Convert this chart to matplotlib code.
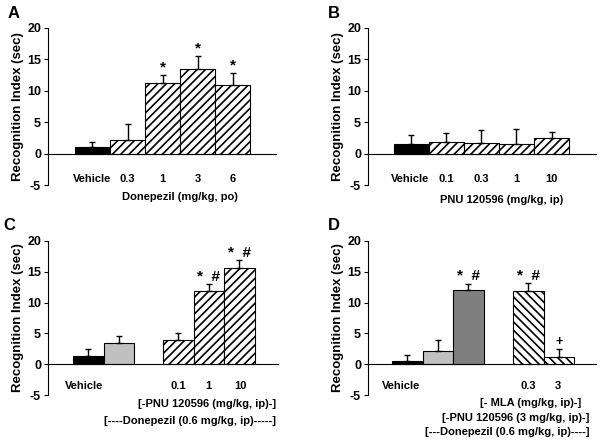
import matplotlib
matplotlib.use("Agg")
import matplotlib.pyplot as plt

plt.rcParams['font.family'] = ['Liberation Sans', 'DejaVu Sans']
plt.rcParams['font.weight'] = 'bold'
plt.rcParams['hatch.linewidth'] = 1.2

# ---- data ----
A_labels = ['Vehicle', '0.3', '1', '3', '6']
A_mean = [1.0, 2.1, 11.3, 13.4, 10.9]
A_err = [0.8, 2.6, 1.2, 2.1, 2.0]
A_marks = ['', '', '*', '*', '*']

B_labels = ['Vehicle', '0.1', '0.3', '1', '10']
B_mean = [1.45, 1.85, 1.7, 1.6, 2.5]
B_err = [1.45, 1.5, 2.05, 2.25, 1.0]
B_marks = ['', '', '', '', '']

C_labels = ['Vehicle', '', '0.1', '1', '10']
C_mean = [1.4, 3.5, 3.95, 11.9, 15.6]
C_err = [1.0, 1.15, 1.1, 1.1, 1.25]
C_marks = ['', '', '', '*  #', '*  #']

D_labels = ['Vehicle', '', '', '0.3', '3']
D_mean = [0.5, 2.2, 12.05, 11.9, 1.2]
D_err = [0.95, 1.7, 1.05, 1.3, 1.3]
D_marks = ['', '', '*  #', '*  #', '+']

A_xlabel = ['Donepezil (mg/kg, po)']
B_xlabel = ['PNU 120596 (mg/kg, ip)']
C_xlabel = ['[-PNU 120596 (mg/kg, ip)-]', '[----Donepezil (0.6 mg/kg, ip)-----]']
D_xlabel = ['[- MLA (mg/kg, ip)-]', '[-PNU 120596 (3 mg/kg, ip)-]',
            '[---Donepezil (0.6 mg/kg, ip)----]']

yticks = [-5, 0, 5, 10, 15, 20]

# ---- layout / style ----
W, H = 602, 443
fig = plt.figure(figsize=(W / 100, H / 100), dpi=100)


def axes_px(left, right, top, bottom):
    return fig.add_axes([left / W, 1 - bottom / H, (right - left) / W, (bottom - top) / H])


panels = [
    dict(ax=axes_px(48, 276, 28, 185), letter='A', labels=A_labels, mean=A_mean, err=A_err,
         marks=A_marks, pos=[0, 1, 2, 3, 4], xlim=(-1.27, 5.24),
         colors=['black', 'white', 'white', 'white', 'white'],
         hatches=[None, '////', '////', '////', '////'],
         label_x=[0, 1, 2, 3, 4], label_y=-4.0, xlabels=A_xlabel,
         xl_pos=[(0.58, -0.075)], xl_ha='center'),
    dict(ax=axes_px(368, 596, 28, 185), letter='B', labels=B_labels, mean=B_mean, err=B_err,
         marks=B_marks, pos=[0, 1, 2, 3, 4], xlim=(-1.24, 5.27),
         colors=['black', 'white', 'white', 'white', 'white'],
         hatches=[None, '////', '////', '////', '////'],
         label_x=[-0.05, 1, 2, 3, 4], label_y=-4.0, xlabels=B_xlabel,
         xl_pos=[(0.585, -0.095)], xl_ha='center'),
    dict(ax=axes_px(48, 278, 241, 395), letter='C', labels=C_labels, mean=C_mean, err=C_err,
         marks=C_marks, pos=[0, 1, 2.95, 3.95, 4.95], xlim=(-1.32, 6.22),
         colors=['black', '#c0c0c0', 'white', 'white', 'white'],
         hatches=[None, None, '////', '////', '////'],
         label_x=[-0.15, 1, 2.95, 3.95, 5.0], label_y=-3.6, xlabels=C_xlabel,
         xl_pos=[(0.99, -0.058), (0.99, -0.17)], xl_ha='right'),
    dict(ax=axes_px(368, 596, 241, 395), letter='D', labels=D_labels, mean=D_mean, err=D_err,
         marks=D_marks, pos=[0, 1, 2, 3.97, 4.97], xlim=(-1.29, 6.19),
         colors=['black', '#c0c0c0', '#7f7f7f', 'white', 'white'],
         hatches=[None, None, None, '\\\\\\\\', '\\\\\\\\'],
         label_x=[-0.2, 1, 2, 3.96, 4.94], label_y=-3.6, xlabels=D_xlabel,
         xl_pos=[(0.935, -0.052), (0.97, -0.148), (0.97, -0.24)], xl_ha='right'),
]

for p in panels:
    ax = p['ax']
    n = len(p['mean'])
    for i in range(n):
        ax.bar(p['pos'][i], p['mean'][i], width=1.0, color=p['colors'][i],
               edgecolor='black', linewidth=0.8, hatch=p['hatches'][i], zorder=2)
    ax.errorbar(p['pos'], p['mean'], yerr=[[0] * n, p['err']], fmt='none',
                ecolor='black', elinewidth=1.0, capsize=2, capthick=1.0, zorder=3)
    for i in range(n):
        if p['marks'][i]:
            fs = 11 if p['marks'][i] != '+' else 9
            ax.text(p['pos'][i], p['mean'][i] + p['err'][i] + 0.05, p['marks'][i],
                    ha='center', va='bottom', fontsize=fs, fontweight='bold')
        if p['labels'][i]:
            ax.text(p['label_x'][i], p['label_y'], p['labels'][i], ha='center',
                    va='center', fontsize=8, fontweight='bold')
    ax.set_xlim(*p['xlim'])
    ax.set_ylim(-5, 20)
    ax.set_yticks(yticks)
    ax.set_yticklabels([str(t) for t in yticks], fontsize=9, fontweight='bold')
    ax.tick_params(axis='y', direction='out', length=3, width=0.8, pad=2)
    ax.set_xticks([])
    for s in ['top', 'right']:
        ax.spines[s].set_visible(False)
    ax.spines['bottom'].set_position(('data', 0))
    ax.spines['left'].set_linewidth(0.8)
    ax.spines['bottom'].set_linewidth(0.8)
    ax.patch.set_alpha(0)
    ax.set_ylabel('Recognition Index (sec)', fontsize=9.5, fontweight='bold', labelpad=2)
    for txt, (xx, yy) in zip(p['xlabels'], p['xl_pos']):
        ax.text(xx, yy, txt, transform=ax.transAxes, ha=p['xl_ha'], va='center',
                fontsize=8, fontweight='bold', clip_on=False)

fig.text(8 / W, 1 - 14 / H, 'A', fontsize=12, fontweight='bold', ha='left', va='center')
fig.text(328 / W, 1 - 13 / H, 'B', fontsize=12, fontweight='bold', ha='left', va='center')
fig.text(3 / W, 1 - 226 / H, 'C', fontsize=12, fontweight='bold', ha='left', va='center')
fig.text(328 / W, 1 - 225 / H, 'D', fontsize=12, fontweight='bold', ha='left', va='center')

fig.savefig('out.png', dpi=100)
